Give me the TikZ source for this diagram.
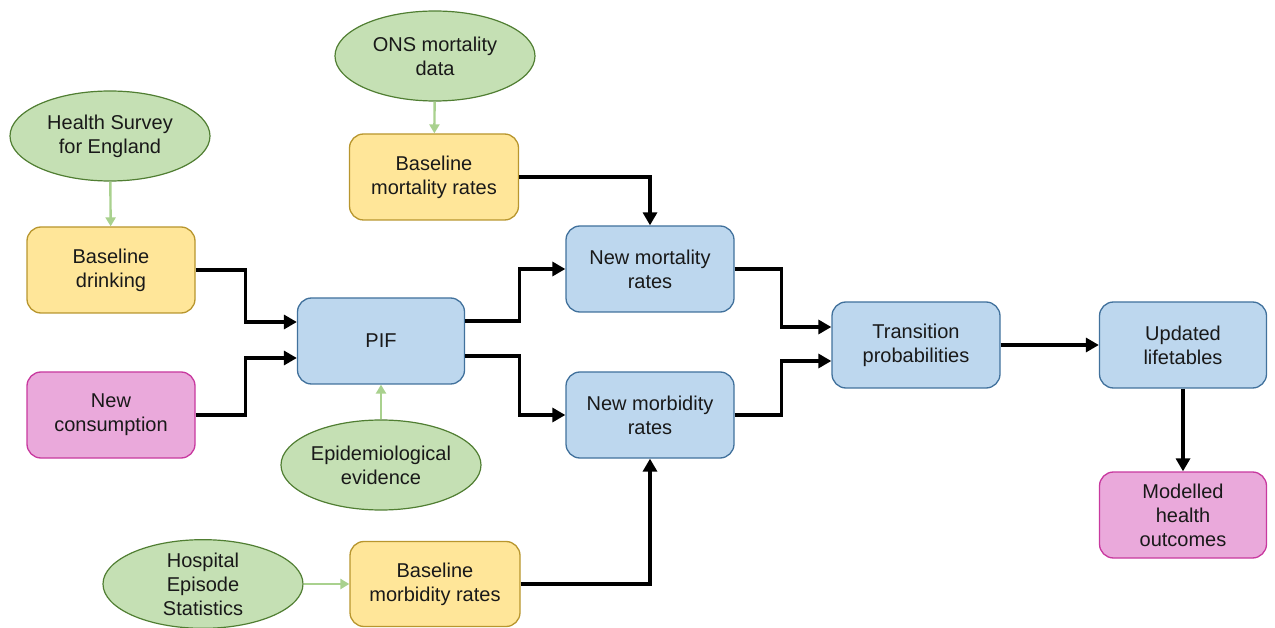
\documentclass[tikz,border=0pt]{standalone}
\usepackage{fontspec}
\setmainfont{Liberation Sans}
\usetikzlibrary{shapes.geometric,arrows.meta}
\definecolor{bluefill}{HTML}{BDD7EE}
\definecolor{blueline}{HTML}{41719C}
\definecolor{yelfill}{HTML}{FFE699}
\definecolor{yelline}{HTML}{B8962E}
\definecolor{pinkfill}{HTML}{EAA9DB}
\definecolor{pinkline}{HTML}{C8399F}
\definecolor{grnfill}{HTML}{C5E0B4}
\definecolor{grnline}{HTML}{507E32}
\definecolor{grnarrow}{HTML}{A9D18E}
\begin{document}
\begin{tikzpicture}[x=1pt,y=-1pt,
  every node/.style={font=\fontsize{20}{24}\selectfont, align=center, text=black!90},
  box/.style={rectangle, rounded corners=14pt, minimum width=168pt, minimum height=86pt, line width=1.3pt},
  bluebox/.style={box, fill=bluefill, draw=blueline},
  yelbox/.style={box, fill=yelfill, draw=yelline},
  pinkbox/.style={box, fill=pinkfill, draw=pinkline},
  src/.style={ellipse, fill=grnfill, draw=grnline, line width=1.2pt, minimum width=200pt, minimum height=90pt, inner sep=0pt},
  flow/.style={line width=3.2pt, draw=black, -{Triangle[length=13pt,width=14pt]}},
  gflow/.style={line width=2.4pt, draw=grnarrow, -{Triangle[length=9pt,width=10pt]}}
]
\useasboundingbox (0,0) rectangle (1275,628);
\node[src] (hse) at (110,136) {Health Survey\\for England};
\node[yelbox] (bd) at (111,270) {Baseline\\drinking};
\node[pinkbox] (nc) at (111,415) {New\\consumption};
\node[bluebox, minimum width=167pt] (pif) at (381,341) {PIF};
\node[src] (epi) at (381,465) {Epidemiological\\evidence};
\node[src] (ons) at (435,56) {ONS mortality\\data};
\node[yelbox, minimum width=169pt] (bmr) at (434,177) {Baseline\\mortality rates};
\node[bluebox] (nmr) at (650,269) {New mortality\\rates};
\node[bluebox] (nmb) at (650,415) {New morbidity\\rates};
\node[src, minimum height=88pt] (hes) at (203,584) {Hospital\\Episode\\Statistics};
\node[yelbox, minimum width=170pt, minimum height=85pt] (bmb) at (435,584) {Baseline\\morbidity rates};
\node[bluebox] (tp) at (916,345) {Transition\\probabilities};
\node[bluebox, minimum width=167pt] (ul) at (1183,345) {Updated\\lifetables};
\node[pinkbox, minimum width=167pt] (mho) at (1183,515) {Modelled\\health\\outcomes};

\draw[gflow] (hse) -- (bd);
\draw[gflow] (ons) -- (bmr);
\draw[gflow] (epi) -- (pif);
\draw[gflow] (hes) -- (bmb);

\draw[flow] (bd.east) -- ++(50,0) |- ([yshift=19pt]pif.west);
\draw[flow] (nc.east) -- ++(50,0) |- ([yshift=-17pt]pif.west);
\draw[flow] ([yshift=20pt]pif.east) -- ++(54,0) |- (nmr.west);
\draw[flow] ([yshift=-15pt]pif.east) -- ++(54,0) |- (nmb.west);
\draw[flow] (bmr.east) -| (nmr.north);
\draw[flow] (bmb.east) -| (nmb.south);
\draw[flow] (nmr.east) -- ++(47,0) |- ([yshift=18pt]tp.west);
\draw[flow] (nmb.east) -- ++(47,0) |- ([yshift=-16pt]tp.west);
\draw[flow] (tp) -- (ul);
\draw[flow] (ul) -- (mho);
\end{tikzpicture}
\end{document}
